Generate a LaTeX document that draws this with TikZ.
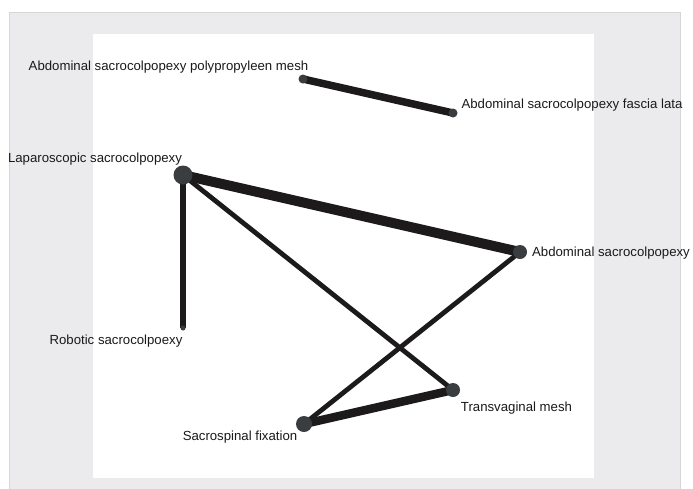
\documentclass[tikz,border=0pt]{standalone}
\usepackage{fontspec}
\setmainfont{Liberation Sans}
\definecolor{panelgray}{HTML}{EBEBED}
\definecolor{panelline}{HTML}{D6D6D8}
\definecolor{edgecol}{HTML}{1C1A1B}
\definecolor{dotcol}{HTML}{3A3D40}
\definecolor{labelcol}{HTML}{1A1A1A}
\begin{document}
\begin{tikzpicture}[x=1pt,y=-1pt,
  edge/.style={draw=edgecol,line cap=butt},
  dot/.style={circle,fill=dotcol,inner sep=0pt,minimum size=#1},
  lbl/.style={inner sep=0pt,text=labelcol,font=\fontsize{13.2}{15}\selectfont}]
\useasboundingbox (0,0) rectangle (693,488);
\fill[white] (0,0) rectangle (693,488);
\filldraw[fill=panelgray,draw=panelline,line width=0.8pt] (9,12) rectangle (680,490);
\fill[white] (93,34) rectangle (594,478);
% node positions
\coordinate (pp) at (303,79);
\coordinate (fl) at (453,113);
\coordinate (lap) at (183,175);
\coordinate (abd) at (520,252);
\coordinate (rob) at (183,328);
\coordinate (tvm) at (453,390);
\coordinate (ssf) at (304,424);
% edges
\draw[edge,line width=7.5pt] (pp) -- (fl);
\draw[edge,line width=10pt] (lap) -- (abd);
\draw[edge,line width=5.5pt] (lap) -- (rob);
\draw[edge,line width=4.8pt] (lap) -- (tvm);
\draw[edge,line width=4.8pt] (abd) -- (ssf);
\draw[edge,line width=8.5pt] (ssf) -- (tvm);
% nodes
\node[dot=9pt] (npp) at (pp) {};
\node[dot=9pt] (nfl) at (fl) {};
\node[dot=19pt] (nlap) at (lap) {};
\node[dot=14pt] (nabd) at (abd) {};
\node[dot=5pt] (nrob) at (rob) {};
\node[dot=14pt] (ntvm) at (tvm) {};
\node[dot=16pt] (nssf) at (ssf) {};
% labels
\node[lbl] (lpp) at (168.5,67) {Abdominal sacrocolpopexy polypropyleen mesh};
\node[lbl] (lfl) at (572,105) {Abdominal sacrocolpopexy fascia lata};
\node[lbl] (llap) at (95,159) {Laparoscopic sacrocolpopexy};
\node[lbl] (labd) at (611,253) {Abdominal sacrocolpopexy};
\node[lbl] (lrob) at (116,341) {Robotic sacrocolpoexy};
\node[lbl] (ltvm) at (516.5,408) {Transvaginal mesh};
\node[lbl] (lssf) at (240,437) {Sacrospinal fixation};
\end{tikzpicture}
\end{document}
